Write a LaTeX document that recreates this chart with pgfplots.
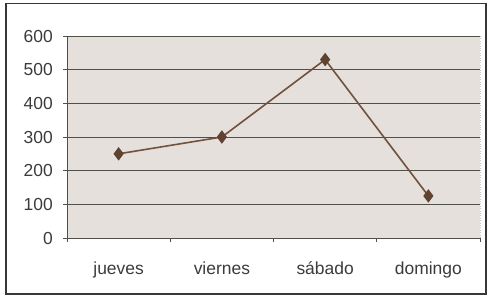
\documentclass[border=0pt]{standalone}
\usepackage{pgfplots}
\pgfplotsset{compat=1.18}
\usepackage{fontspec}
\setmainfont{Liberation Sans}
\definecolor{plotbg}{RGB}{229,224,220}
\definecolor{gridc}{RGB}{80,80,70}
\definecolor{linec}{RGB}{112,82,62}
\definecolor{markc}{RGB}{95,66,48}
\definecolor{textc}{RGB}{62,58,58}
\definecolor{framec}{RGB}{55,55,55}
\begin{document}
\begin{tikzpicture}[x=1bp,y=1bp]
\path[use as bounding box] (0,0) rectangle (489,297);
\draw[color=framec, line width=1.2bp] (6,3) rectangle (486,293.5);
\begin{axis}[
  at={(67bp,59bp)}, anchor=south west,
  scale only axis, width=413bp, height=202bp,
  xmin=0, xmax=4, ymin=0, ymax=600,
  axis background/.style={fill=plotbg, draw=gray!45, dotted},
  axis lines=left, axis line style={-, color=gridc, line width=1bp},
  xtick={0.5,1.5,2.5,3.5},
  xticklabels={jueves,viernes,sábado,domingo},
  x tick style={draw=none},
  extra x ticks={0,1,2,3,4}, extra x tick labels={},
  extra x tick style={x tick style={draw=gridc, line width=0.7bp}, major tick length=4bp, tick align=outside},
  ytick={0,100,...,600},
  ymajorgrids, major grid style={color=gridc, line width=0.9bp},
  y tick style={color=gridc, line width=0.7bp}, major tick length=4bp, tick align=outside,
  /pgf/number format/assume math mode=true,
  tick label style={font=\fontsize{17.5}{20}\selectfont, text=textc},
  yticklabel style={anchor=east, inner sep=0pt, xshift=-10bp},
  xticklabel style={anchor=base, inner sep=0pt, yshift=-32bp},
  clip=false,
]
\addplot[color=linec, line width=1.6bp, mark=diamond*, mark size=5.5pt,
  mark options={fill=markc, draw=markc, solid}]
  coordinates {(0.5,250) (1.5,300) (2.5,530) (3.5,125)};
\end{axis}
\end{tikzpicture}
\end{document}
